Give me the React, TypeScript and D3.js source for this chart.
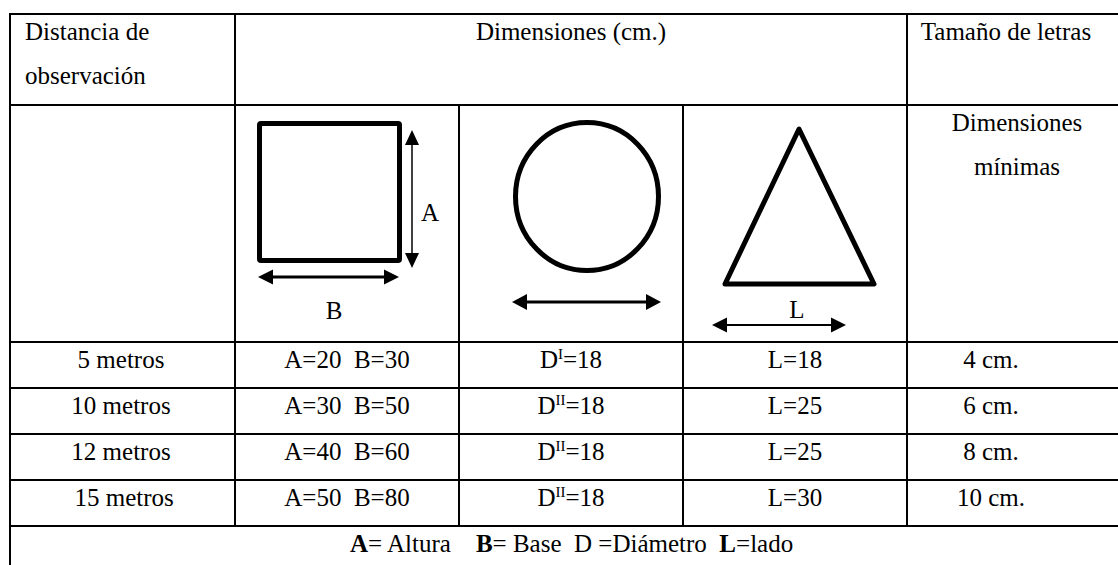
import React from "react";
import * as d3 from "d3";

// table content
const headerCols = ["Distancia de", "Dimensiones (cm.)", "Tamaño de letras"];
const distances = ["5 metros", "10 metros", "12 metros", " 15 metros"];
const squareDims = ["A=20  B=30", "A=30  B=50", "A=40  B=60", "A=50  B=80"];
const circleSup = ["I", "II", "II", "II"];
const circleDims = ["=18", "=18", "=18", "=18"];
const triangleDims = ["L=18", "L=25", "L=25", "L=30"];
const letterSizes = ["4 cm.", "6 cm.", "8 cm.", "10 cm."];

const W = 1118;
const H = 565;
const font = "'Liberation Serif', 'Times New Roman', serif";
const fs = 25;

const App = () => {
    const colEdges = [10, 235, 459, 683, 907, 1130];
    const colMid = (i: number) => (colEdges[i] + colEdges[i + 1]) / 2;

    // rows of values
    const yRow = d3.scaleBand<string>()
        .domain(distances)
        .range([342, 526])
        .padding(0);
    const base = (d: string) => (yRow(d) as number) + 26;

    const hLines = [14, 105, ...distances.map(d => yRow(d) as number), 526];

    // arrows with filled heads at both ends
    const arrow = (x1: number, y1: number, x2: number, y2: number, hl: number, hw: number) => {
        const ang = Math.atan2(y2 - y1, x2 - x1);
        const c = Math.cos(ang), s = Math.sin(ang);
        const head = (px: number, py: number, dir: number) => {
            const p = d3.path();
            const bx = px - dir * c * hl, by = py - dir * s * hl;
            p.moveTo(px, py);
            p.lineTo(bx - s * hw, by + c * hw);
            p.lineTo(bx + s * hw, by - c * hw);
            p.closePath();
            return p.toString();
        };
        const line = d3.line()([[x1 + c * (hl - 2), y1 + s * (hl - 2)], [x2 - c * (hl - 2), y2 - s * (hl - 2)]]);
        return { line: line as string, a: head(x1, y1, -1), b: head(x2, y2, 1) };
    };

    const vArrow = arrow(412, 130, 412, 268, 15, 7);
    const sqArrow = arrow(258, 277, 399, 277, 15, 7.5);
    const ciArrow = arrow(512, 302, 661, 302, 15, 8);
    const trArrow = arrow(712, 325, 846, 325, 15, 7.5);

    const tri = d3.line()([[799, 129], [874, 284], [725, 284]]) + "Z";

    const txt = {
        fontFamily: font,
        fontSize: fs,
        fill: "#000",
        whiteSpace: "pre" as const,
    };

    const renderArrow = (a: { line: string; a: string; b: string }, w: number) => (
        <g>
            <path d={a.line} stroke="#000" strokeWidth={w} fill="none" />
            <path d={a.a} fill="#000" />
            <path d={a.b} fill="#000" />
        </g>
    );

    return (
        <svg width={W} height={H} style={{ position: "absolute", left: 0, top: 0, background: "#fff" }}>
            <rect width={W} height={H} fill="#fff" />

            {/* grid */}
            <g stroke="#000" strokeWidth={2} shapeRendering="crispEdges">
                {hLines.map((y, i) => (
                    <line key={i} x1={9} x2={W} y1={y} y2={y} />
                ))}
                <line x1={10} x2={10} y1={13} y2={H} />
                <line x1={235} x2={235} y1={13} y2={527} />
                <line x1={907} x2={907} y1={13} y2={527} />
                <line x1={459} x2={459} y1={105} y2={527} />
                <line x1={683} x2={683} y1={105} y2={527} />
            </g>

            {/* header */}
            <text x={25} y={40} style={txt}>{headerCols[0]}</text>
            <text x={25} y={84} style={txt}>observación</text>
            <text x={colMid(2)} y={40} textAnchor="middle" style={txt}>{headerCols[1]}</text>
            <text x={1006} y={40} textAnchor="middle" style={txt}>{headerCols[2]}</text>
            <text x={1017} y={131} textAnchor="middle" style={txt}>Dimensiones</text>
            <text x={1017} y={175} textAnchor="middle" style={txt}>mínimas</text>

            {/* shapes */}
            <rect x={259.5} y={123.5} width={140} height={137} fill="none" stroke="#000" strokeWidth={5} rx={1.5} />
            {renderArrow(vArrow, 1.5)}
            {renderArrow(sqArrow, 3)}
            <text x={430} y={221} textAnchor="middle" style={txt}>A</text>
            <text x={334} y={319} textAnchor="middle" style={txt}>B</text>

            <ellipse cx={587} cy={196.5} rx={71.5} ry={74} fill="none" stroke="#000" strokeWidth={5} />
            {renderArrow(ciArrow, 3)}

            <path d={tri} fill="none" stroke="#000" strokeWidth={5} strokeLinejoin="round" />
            <text x={797} y={318} textAnchor="middle" style={txt}>L</text>
            {renderArrow(trArrow, 2)}

            {/* data rows */}
            {distances.map((d, i) => (
                <g key={d}>
                    <text x={121} y={base(d)} textAnchor="middle" style={txt}>{d}</text>
                    <text x={347} y={base(d)} textAnchor="middle" style={txt}>{squareDims[i]}</text>
                    <text x={colMid(2)} y={base(d)} textAnchor="middle" style={txt}>
                        D<tspan fontSize={15} dy={-9}>{circleSup[i]}</tspan>
                        <tspan dy={9}>{circleDims[i]}</tspan>
                    </text>
                    <text x={colMid(3)} y={base(d)} textAnchor="middle" style={txt}>{triangleDims[i]}</text>
                    <text x={991} y={base(d)} textAnchor="middle" style={txt}>{letterSizes[i]}</text>
                </g>
            ))}

            {/* footer */}
            <text x={350} y={552} style={txt}>
                <tspan fontWeight="bold">A</tspan>= Altura    <tspan fontWeight="bold">B</tspan>= Base  D =Diámetro  <tspan fontWeight="bold">L</tspan>=lado
            </text>
        </svg>
    );
};

export default App;
